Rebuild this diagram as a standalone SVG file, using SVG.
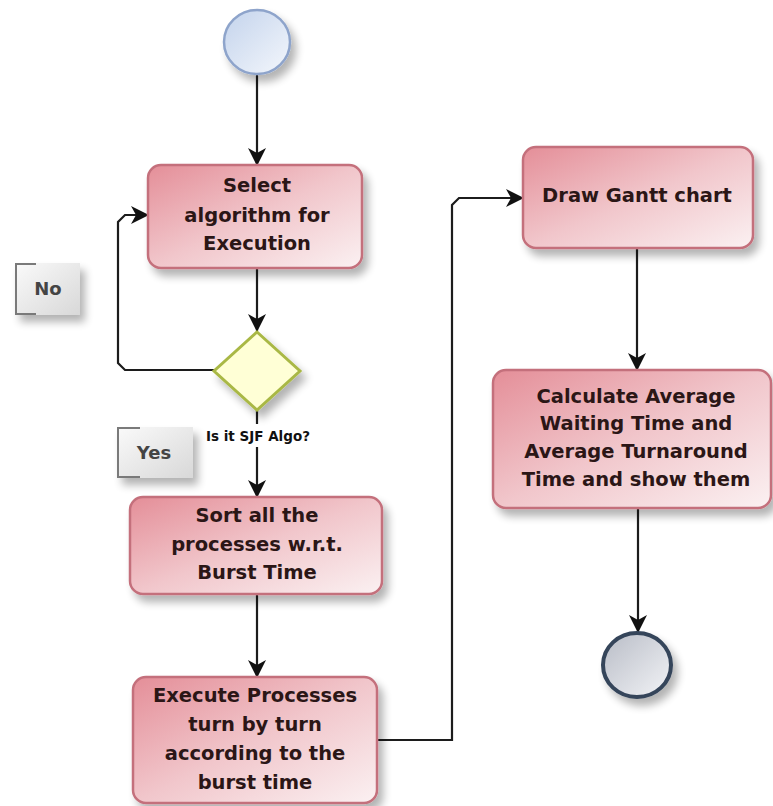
<svg xmlns="http://www.w3.org/2000/svg" width="773" height="806" viewBox="0 0 773 806">
<defs>
<linearGradient id="boxFill" x1="0" y1="0" x2="1" y2="1">
<stop offset="0" stop-color="#e48e98"/>
<stop offset="0.5" stop-color="#f1c6cb"/>
<stop offset="1" stop-color="#fbf1f2"/>
</linearGradient>
<linearGradient id="startFill" x1="0" y1="0" x2="1" y2="1">
<stop offset="0" stop-color="#c3d3ec"/>
<stop offset="1" stop-color="#f4f7fc"/>
</linearGradient>
<linearGradient id="endFill" x1="0" y1="0" x2="1" y2="1">
<stop offset="0" stop-color="#b8bcc6"/>
<stop offset="1" stop-color="#f3f4f7"/>
</linearGradient>
<linearGradient id="noteFill" x1="0" y1="0" x2="1" y2="1">
<stop offset="0" stop-color="#fafafa"/>
<stop offset="1" stop-color="#d8d8d8"/>
</linearGradient>
<filter id="shadow" x="-20%" y="-20%" width="150%" height="160%">
<feGaussianBlur in="SourceAlpha" stdDeviation="4"/>
<feOffset dx="5" dy="7" result="b"/>
<feComponentTransfer><feFuncA type="linear" slope="0.3"/></feComponentTransfer>
<feMerge><feMergeNode/><feMergeNode in="SourceGraphic"/></feMerge>
</filter>
<marker id="arrow" markerUnits="userSpaceOnUse" markerWidth="22" markerHeight="22" refX="17" refY="9" orient="auto">
<path d="M0,0 L18,9 L0,18 L5,9 z" fill="#111"/>
</marker>
<style>
.box{fill:url(#boxFill);stroke:#c4707c;stroke-width:2.5}
.lbl{font-family:"DejaVu Sans",Verdana,sans-serif;font-weight:bold;font-size:19.5px;fill:#2b1616;text-anchor:middle}
.conn{fill:none;stroke:#1c1c1c;stroke-width:2.2}
.note{fill:url(#noteFill)}
.noteb{fill:none;stroke:#7a7a7a;stroke-width:2}
.notet{font-family:"DejaVu Sans",Verdana,sans-serif;font-weight:bold;font-size:18px;fill:#444;text-anchor:middle}
</style>
</defs>
<rect width="773" height="806" fill="#ffffff"/>

<g id="connectors">
<path class="conn" d="M257,75 L257,165" marker-end="url(#arrow)"/>
<path class="conn" d="M257,268 L257,331" marker-end="url(#arrow)"/>
<path class="conn" d="M214,370 L125,370 L118,363 L118,222 L125,215 L148,215" marker-end="url(#arrow)"/>
<path class="conn" d="M257,410 L257,424"/>
<path class="conn" d="M257,447 L257,497" marker-end="url(#arrow)"/>
<path class="conn" d="M257,594 L257,677" marker-end="url(#arrow)"/>
<path class="conn" d="M377,740 L452,740 L452,205 L459,198 L523,198" marker-end="url(#arrow)"/>
<path class="conn" d="M637,248 L637,370" marker-end="url(#arrow)"/>
<path class="conn" d="M638,508 L638,632" marker-end="url(#arrow)"/>
</g>

<g id="start">
<ellipse cx="257" cy="42" rx="33" ry="32" fill="url(#startFill)" stroke="#8ea4cb" stroke-width="2.5" filter="url(#shadow)"/>
</g>

<g id="select">
<rect class="box" x="148" y="165" width="214" height="103" rx="13" filter="url(#shadow)"/>
<text class="lbl" x="257" y="192">Select</text>
<text class="lbl" x="257" y="222">algorithm  for</text>
<text class="lbl" x="257" y="250">Execution</text>
</g>

<g id="decision">
<polygon points="257,332 300,371 257,410 214,371" fill="#ffffd6" stroke="#a9b845" stroke-width="3" filter="url(#shadow)"/>
<text x="258" y="441" font-family="DejaVu Sans, Verdana, sans-serif" font-weight="bold" font-size="13.5" fill="#111" text-anchor="middle">Is it SJF Algo?</text>
</g>

<g id="note-no">
<rect class="note" x="15" y="263" width="65" height="52" filter="url(#shadow)"/>
<path class="noteb" d="M36,264 L16,264 L16,314 L36,314"/>
<text class="notet" x="48" y="295">No</text>
</g>

<g id="note-yes">
<rect class="note" x="117" y="427" width="76" height="51" filter="url(#shadow)"/>
<path class="noteb" d="M140,428 L118,428 L118,477 L140,477"/>
<text class="notet" x="154" y="459">Yes</text>
</g>

<g id="sort">
<rect class="box" x="130" y="497" width="252" height="97" rx="13" filter="url(#shadow)"/>
<text class="lbl" x="257" y="522">Sort all the</text>
<text class="lbl" x="257" y="551">processes w.r.t.</text>
<text class="lbl" x="257" y="579">Burst Time</text>
</g>

<g id="execute">
<rect class="box" x="133" y="677" width="244" height="126" rx="13" filter="url(#shadow)"/>
<text class="lbl" x="255" y="702">Execute Processes</text>
<text class="lbl" x="255" y="731">turn by turn</text>
<text class="lbl" x="255" y="760">according to the</text>
<text class="lbl" x="255" y="789">burst time</text>
</g>

<g id="gantt">
<rect class="box" x="523" y="147" width="230" height="101" rx="13" filter="url(#shadow)"/>
<text class="lbl" x="637" y="202">Draw Gantt chart</text>
</g>

<g id="calculate">
<rect class="box" x="493" y="370" width="278" height="138" rx="13" filter="url(#shadow)"/>
<text class="lbl" x="636" y="403">Calculate Average</text>
<text class="lbl" x="636" y="430">Waiting Time and</text>
<text class="lbl" x="636" y="458">Average Turnaround</text>
<text class="lbl" x="636" y="486">Time and show them</text>
</g>

<g id="end">
<ellipse cx="637" cy="665" rx="34" ry="32" fill="url(#endFill)" stroke="#34445a" stroke-width="4" filter="url(#shadow)"/>
</g>
</svg>
